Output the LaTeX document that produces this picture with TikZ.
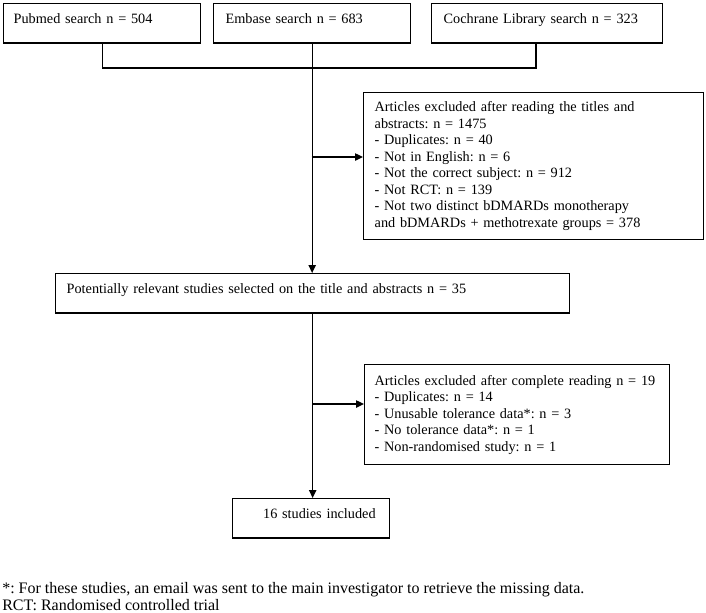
\documentclass[tikz,border=0pt]{standalone}
\usepackage{fontspec}
\setmainfont{Liberation Serif}
\usetikzlibrary{arrows.meta}
\frenchspacing

\begin{document}
\begin{tikzpicture}[x=0.75pt,y=-0.75pt,
        box/.style={draw,line width=1pt,anchor=north west,align=left,inner ysep=0pt,font=\fontsize{10.7pt}{12.4pt}\selectfont},
        onerow/.style={text height=14.5pt,text depth=15pt},
        link/.style={line width=1pt},
        arr/.style={-{Triangle[length=6pt,width=5.5pt]},line width=1pt}]
        \useasboundingbox (0,0) rectangle (706,612);

        \node[box,onerow,inner xsep=7.5pt,text width=132.75pt] (pubmed) at (3,3) {Pubmed search n = 504};
        \node[box,onerow,inner xsep=9pt,text width=129.75pt] (embase) at (213,3) {Embase search n = 683};
        \node[box,onerow,inner xsep=9pt,text width=155.25pt] (cochrane) at (431,3) {Cochrane Library search n = 323};

        \coordinate (cdrop) at (536,68);
        \draw[link] (pubmed.south) -- (pubmed.south |- cdrop) -- (cdrop) -- (cdrop |- cochrane.south);

        \node[box,inner xsep=8.25pt,text width=238.5pt,minimum height=110.25pt] (excl1) at (363,92) {Articles excluded after reading the titles and\\abstracts: n = 1475\\- Duplicates: n = 40\\- Not in English: n = 6\\- Not the correct subject: n = 912\\- Not RCT: n = 139\\- Not two distinct bDMARDs monotherapy\\and bDMARDs + methotrexate groups = 378};

        \node[box,onerow,inner xsep=8.25pt,text width=369pt] (potential) at (55,273) {Potentially relevant studies selected on the title and abstracts n = 35};

        \draw[arr] (embase.south) -- (embase.south |- potential.north);
        \coordinate (split1) at (311.5,157);
        \draw[arr] (split1) -- (split1 -| excl1.west);

        \node[box,inner xsep=7.5pt,text width=213.75pt,minimum height=75pt] (excl2) at (364,364) {Articles excluded after complete reading n = 19\\- Duplicates: n = 14\\- Unusable tolerance data*: n = 3\\- No tolerance data*: n = 1\\- Non-randomised study: n = 1};

        \node[box,onerow,align=right,inner xsep=10.5pt,text width=96.75pt] (included) at (232,498) {16 studies included};

        \draw[arr] (potential.south) -- (potential.south |- included.north);
        \coordinate (split2) at (312,404);
        \draw[arr] (split2) -- (split2 -| excl2.west);

        \node[anchor=north west,inner sep=0pt,align=left,font=\fontsize{12pt}{12.6pt}\selectfont] (notes) at (2,582) {*: For these studies, an email was sent to the main investigator to retrieve the missing data.\\RCT: Randomised controlled trial};
    \end{tikzpicture}
\end{document}
